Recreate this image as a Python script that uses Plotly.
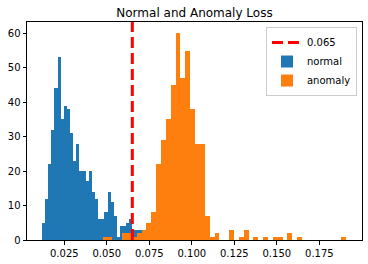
import numpy as np
import plotly.graph_objects as go

# ---- data ----
threshold = 0.065

normal_start = 0.01188
normal_bin_width = 0.001835
normal_counts = [5, 12, 22, 32, 44, 53, 35, 39, 38, 31, 23, 28, 20, 20, 17, 20,
                 14, 12, 6, 6, 8, 14, 11, 7, 1, 4, 4, 5, 6, 3, 3, 3]

anomaly_start = 0.04759
anomaly_bin_width = 0.002859
anomaly_counts = [1, 1, 0, 0, 2, 2, 1, 2, 3, 5, 8, 22, 29, 35, 45, 60, 47, 55, 38, 28,
                  28, 7, 1, 2, 0, 0, 3, 0, 1, 3, 0, 1, 0, 1, 0, 1, 1, 0, 2, 0,
                  1, 0, 0, 0, 0, 0, 0, 0, 0, 1]

x_ticks = [0.025, 0.050, 0.075, 0.100, 0.125, 0.150, 0.175]
x_tick_labels = ["0.025", "0.050", "0.075", "0.100", "0.125", "0.150", "0.175"]
y_ticks = [0, 10, 20, 30, 40, 50, 60]

# ---- bins ----
n_edges = normal_start + normal_bin_width * np.arange(len(normal_counts))
a_edges = anomaly_start + anomaly_bin_width * np.arange(len(anomaly_counts))

FONT = "DejaVu Sans"
fig = go.Figure()
fig.add_trace(go.Bar(
    x=n_edges, y=normal_counts, width=normal_bin_width, offset=0,
    name="normal", marker=dict(color="#1f77b4", line=dict(width=0)),
    legendrank=2,
))
fig.add_trace(go.Bar(
    x=a_edges, y=anomaly_counts, width=anomaly_bin_width, offset=0,
    name="anomaly", marker=dict(color="#ff7f0e", line=dict(width=0)),
    legendrank=3,
))
fig.add_shape(
    type="line", xref="x", yref="paper", x0=threshold, x1=threshold, y0=0, y1=1,
    line=dict(color="#ff0000", width=3, dash="11px,5px"),
    showlegend=True, name=f"{threshold}", legendrank=1, layer="above",
)

axis_common = dict(
    showline=True, linecolor="black", linewidth=1, mirror=True,
    ticks="outside", ticklen=3.5, tickwidth=1, tickcolor="black",
    showgrid=False, zeroline=False,
    tickfont=dict(family=FONT, size=10, color="black"),
)

fig.update_layout(
    width=368, height=264,
    margin=dict(l=27, r=6, t=22, b=24),
    paper_bgcolor="white", plot_bgcolor="white",
    barmode="overlay", bargap=0,
    font=dict(family=FONT, size=10, color="black"),
    title=dict(text="Normal and Anomaly Loss", x=0.5, xref="paper",
               y=1 - 13 / 264, yref="container", yanchor="middle",
               font=dict(family=FONT, size=12, color="black")),
    xaxis=dict(range=[0.00306, 0.2001], tickvals=x_ticks, ticktext=x_tick_labels,
               **axis_common),
    yaxis=dict(range=[0, 63.3], tickvals=y_ticks, **axis_common),
    legend=dict(x=0.985, y=0.977, xanchor="right", yanchor="top",
                bgcolor="rgba(255,255,255,0.8)", bordercolor="#cccccc", borderwidth=1,
                font=dict(family=FONT, size=10, color="black"),
                itemwidth=30, tracegroupgap=0),
)

fig.write_html("out.html")
